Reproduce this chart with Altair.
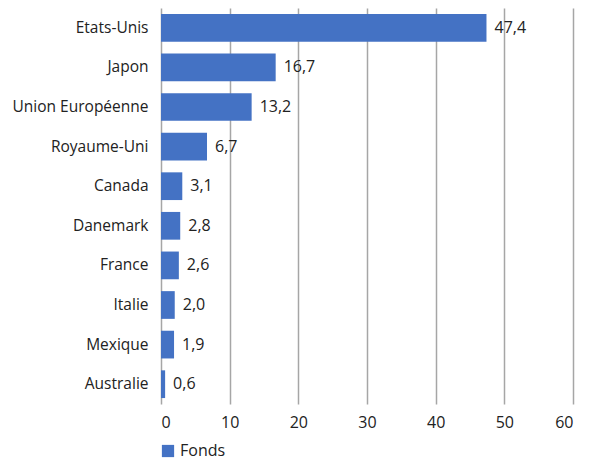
import altair as alt
import pandas as pd

countries = ["Etats-Unis", "Japon", "Union Européenne", "Royaume-Uni", "Canada",
             "Danemark", "France", "Italie", "Mexique", "Australie"]
values = [47.4, 16.7, 13.2, 6.7, 3.1, 2.8, 2.6, 2.0, 1.9, 0.6]
x_ticks = [0, 10, 20, 30, 40, 50, 60]

df = pd.DataFrame({"pays": countries, "valeur": values})
df["label"] = [f"{v:.1f}".replace(".", ",") for v in values]
df["serie"] = "Fonds"

FONT = "Open Sans"
FS = 16

y = alt.Y("pays:N", sort=countries, title=None,
          scale=alt.Scale(paddingInner=0.3, paddingOuter=0.15),
          axis=alt.Axis(ticks=False, domain=False, labelFontSize=15.5, labelColor="#222",
                        labelFont=FONT, labelPadding=13))
x = alt.X("valeur:Q", title=None,
          scale=alt.Scale(domain=[0, 60], nice=False),
          axis=alt.Axis(values=x_ticks, ticks=False, domain=False, grid=True,
                        gridColor="#a6a6a6", gridWidth=1.5, labelFontSize=FS,
                        labelColor="#222", labelFont=FONT, labelPadding=10))

bars = alt.Chart(df).mark_bar(color="#4472C4").encode(
    x=x, y=y,
    color=alt.Color("serie:N", scale=alt.Scale(range=["#4472C4"]), title=None,
                    legend=alt.Legend(orient="none", legendX=-1, legendY=435,
                                      symbolType="square", symbolSize=150,
                                      labelFontSize=FS, labelColor="#222", labelFont=FONT,
                                      symbolStrokeWidth=0))
)
text = alt.Chart(df).mark_text(align="left", dx=8, fontSize=FS, color="#222", font=FONT).encode(
    x="valeur:Q", y=alt.Y("pays:N", sort=countries), text="label:N"
)

chart = (bars + text).properties(
    width=412, height=396,
    autosize=alt.AutoSizeParams(type="none"),
    padding={"left": 153, "top": 0, "right": 9, "bottom": 58}
).configure_view(stroke=None)

chart.save("out.html", embed_options={"renderer": "svg", "actions": False})
